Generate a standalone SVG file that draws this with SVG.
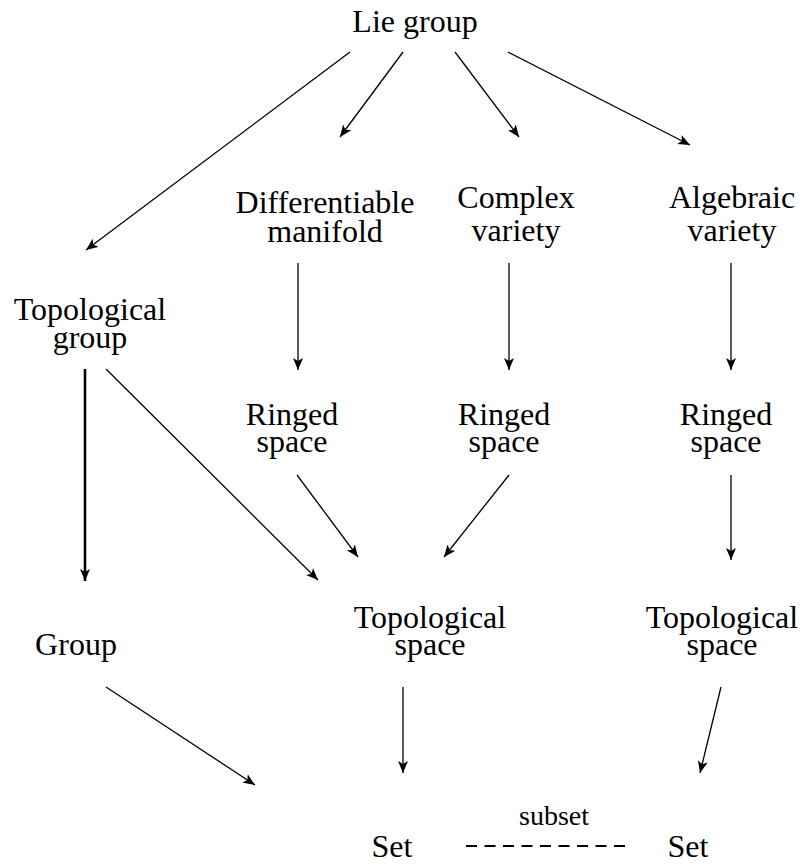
<svg xmlns="http://www.w3.org/2000/svg" width="805" height="865" viewBox="0 0 805 865">
<style>
text{font-family:'Liberation Serif','DejaVu Serif','Times New Roman',serif;font-size:32px;fill:#000;text-anchor:middle}
.small{font-size:28px}
.c line{stroke:#000;stroke-width:1.3;fill:none}
.c line.thick{stroke-width:2.6}
</style>
<defs>
<marker id="ah" markerUnits="userSpaceOnUse" markerWidth="14" markerHeight="10" refX="12" refY="5" orient="auto">
<path d="M0,0 L12,5 L0,10 L3,5 Z" fill="#000"/>
</marker>
</defs>
<rect width="805" height="865" fill="#fff"/>
<g id="lie"><text x="415" y="32">Lie group</text></g>
<g id="diff"><text><tspan x="325" y="213">Differentiable</tspan><tspan x="325" y="242">manifold</tspan></text></g>
<g id="complex"><text><tspan x="516" y="208">Complex</tspan><tspan x="516" y="241">variety</tspan></text></g>
<g id="alg"><text><tspan x="732" y="208">Algebraic</tspan><tspan x="732" y="241">variety</tspan></text></g>
<g id="topgroup"><text><tspan x="90" y="320">Topological</tspan><tspan x="90" y="348">group</tspan></text></g>
<g id="ringed1"><text><tspan x="292" y="425">Ringed</tspan><tspan x="292" y="452">space</tspan></text></g>
<g id="ringed2"><text><tspan x="504" y="425">Ringed</tspan><tspan x="504" y="452">space</tspan></text></g>
<g id="ringed3"><text><tspan x="726" y="425">Ringed</tspan><tspan x="726" y="452">space</tspan></text></g>
<g id="group"><text x="76" y="655">Group</text></g>
<g id="topspace"><text><tspan x="430" y="628">Topological</tspan><tspan x="430" y="655">space</tspan></text></g>
<g id="topspace3"><text><tspan x="722" y="628">Topological</tspan><tspan x="722" y="655">space</tspan></text></g>
<g id="set1"><text x="392" y="857">Set</text></g>
<g id="set2"><text x="688" y="857">Set</text></g>
<g class="c" id="connectors">
<line x1="350" y1="52" x2="86" y2="250" marker-end="url(#ah)"/>
<line x1="403" y1="52" x2="340" y2="137" marker-end="url(#ah)"/>
<line x1="455" y1="52" x2="519" y2="137" marker-end="url(#ah)"/>
<line x1="508" y1="52" x2="690" y2="145" marker-end="url(#ah)"/>
<line x1="298" y1="263" x2="298" y2="370" marker-end="url(#ah)"/>
<line x1="509" y1="263" x2="509" y2="370" marker-end="url(#ah)"/>
<line x1="731" y1="263" x2="731" y2="370" marker-end="url(#ah)"/>
<line class="thick" x1="85" y1="369" x2="85" y2="581" marker-end="url(#ah)"/>
<line x1="106" y1="369" x2="318" y2="580" marker-end="url(#ah)"/>
<line x1="297" y1="475" x2="358" y2="557" marker-end="url(#ah)"/>
<line x1="509" y1="475" x2="444" y2="557" marker-end="url(#ah)"/>
<line x1="731" y1="475" x2="731" y2="560" marker-end="url(#ah)"/>
<line x1="106" y1="687" x2="255" y2="785" marker-end="url(#ah)"/>
<line x1="403" y1="687" x2="403" y2="773" marker-end="url(#ah)"/>
<line x1="721" y1="687" x2="700" y2="773" marker-end="url(#ah)"/>
<line x1="466" y1="846" x2="626" y2="846" stroke-dasharray="11 7.5" style="stroke-width:2"/>
<text class="small" x="554" y="825">subset</text>
</g>
</svg>
